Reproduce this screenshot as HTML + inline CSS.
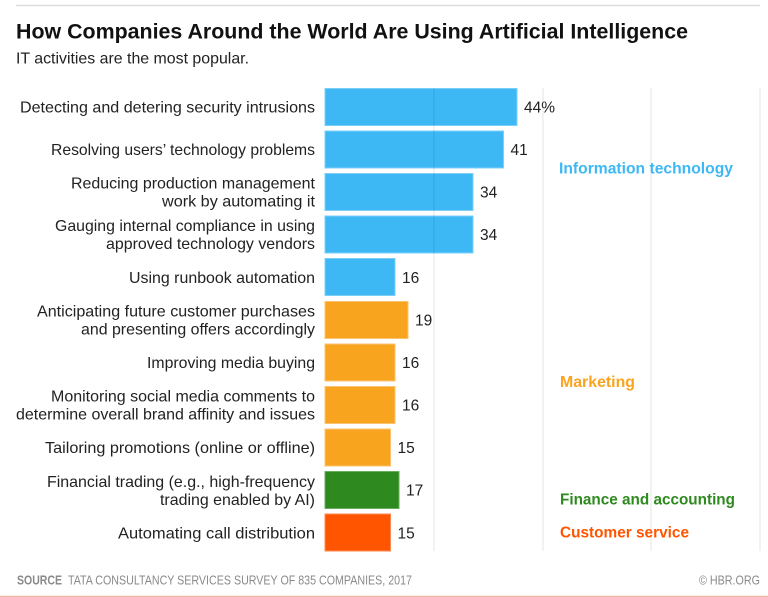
<!DOCTYPE html>
<html><head><meta charset="utf-8"><style>
html,body{margin:0;padding:0;background:#fff;}
svg{display:block;}
text{font-family:"Liberation Sans",sans-serif;}
</style></head><body>
<svg width="768" height="597" viewBox="0 0 768 597" xmlns="http://www.w3.org/2000/svg">
<rect width="768" height="597" fill="#fff"/>
<line x1="16" y1="5.5" x2="760" y2="5.5" stroke="#dcdcdc" stroke-width="1.5"/>
<text x="16" y="38.5" font-size="21" font-weight="bold" fill="#111" textLength="672" lengthAdjust="spacingAndGlyphs">How Companies Around the World Are Using Artificial Intelligence</text>
<text x="16" y="63.5" font-size="16" fill="#222" textLength="233" lengthAdjust="spacingAndGlyphs">IT activities are the most popular.</text>

<!-- bars -->
<g stroke-width="1">
<rect x="325" y="88.5" width="192" height="37" fill="#3db8f5" stroke="#7ccff8"/>
<rect x="325" y="131" width="178.5" height="37" fill="#3db8f5" stroke="#7ccff8"/>
<rect x="325" y="173.5" width="148" height="37" fill="#3db8f5" stroke="#7ccff8"/>
<rect x="325" y="216" width="148" height="37" fill="#3db8f5" stroke="#7ccff8"/>
<rect x="325" y="258.5" width="70" height="37" fill="#3db8f5" stroke="#7ccff8"/>
<rect x="325" y="301.5" width="83" height="37" fill="#f9a41f" stroke="#fbc370"/>
<rect x="325" y="344" width="70" height="37" fill="#f9a41f" stroke="#fbc370"/>
<rect x="325" y="386.5" width="70" height="37" fill="#f9a41f" stroke="#fbc370"/>
<rect x="325" y="429" width="65.5" height="37" fill="#f9a41f" stroke="#fbc370"/>
<rect x="325" y="471.5" width="74" height="37" fill="#2e8a1f" stroke="#6aad5e"/>
<rect x="325" y="514" width="65.5" height="37" fill="#ff5500" stroke="#ff8a52"/>
</g>

<!-- gridlines -->
<g stroke="rgba(0,0,0,0.09)" stroke-width="1.2">
<line x1="434" y1="88" x2="434" y2="551"/>
<line x1="543" y1="88" x2="543" y2="551"/>
<line x1="651" y1="88" x2="651" y2="551"/>
<line x1="760" y1="88" x2="760" y2="551"/>
</g>

<!-- row labels -->
<g font-size="16" fill="#222" text-anchor="end">
<text x="315" y="112.5" textLength="295" lengthAdjust="spacingAndGlyphs">Detecting and detering security intrusions</text>
<text x="315" y="155" textLength="264" lengthAdjust="spacingAndGlyphs">Resolving users’ technology problems</text>
<text x="315" y="188.5" textLength="244" lengthAdjust="spacingAndGlyphs">Reducing production management</text>
<text x="315" y="206.5" textLength="153" lengthAdjust="spacingAndGlyphs">work by automating it</text>
<text x="315" y="231" textLength="260" lengthAdjust="spacingAndGlyphs">Gauging internal compliance in using</text>
<text x="315" y="249" textLength="209" lengthAdjust="spacingAndGlyphs">approved technology vendors</text>
<text x="315" y="283" textLength="186" lengthAdjust="spacingAndGlyphs">Using runbook automation</text>
<text x="315" y="316.5" textLength="278" lengthAdjust="spacingAndGlyphs">Anticipating future customer purchases</text>
<text x="315" y="334.5" textLength="234" lengthAdjust="spacingAndGlyphs">and presenting offers accordingly</text>
<text x="315" y="368" textLength="168" lengthAdjust="spacingAndGlyphs">Improving media buying</text>
<text x="315" y="401.5" textLength="264" lengthAdjust="spacingAndGlyphs">Monitoring social media comments to</text>
<text x="315" y="419.5" textLength="299" lengthAdjust="spacingAndGlyphs">determine overall brand affinity and issues</text>
<text x="315" y="453" textLength="270" lengthAdjust="spacingAndGlyphs">Tailoring promotions (online or offline)</text>
<text x="315" y="487" textLength="268" lengthAdjust="spacingAndGlyphs">Financial trading (e.g., high-frequency</text>
<text x="315" y="505" textLength="155" lengthAdjust="spacingAndGlyphs">trading enabled by AI)</text>
<text x="315" y="538.5" textLength="197" lengthAdjust="spacingAndGlyphs">Automating call distribution</text>
</g>

<!-- value labels -->
<g font-size="15.5" fill="#222">
<text x="524" y="112.5">44%</text>
<text x="510.5" y="155">41</text>
<text x="480" y="197.5">34</text>
<text x="480" y="240">34</text>
<text x="402" y="283">16</text>
<text x="415" y="325.5">19</text>
<text x="402" y="368">16</text>
<text x="402" y="410.5">16</text>
<text x="397.5" y="453">15</text>
<text x="406" y="495.5">17</text>
<text x="397.5" y="538.5">15</text>
</g>

<!-- category labels -->
<g font-size="15.5" font-weight="bold">
<text x="559" y="173.5" fill="#3db8f5" textLength="174" lengthAdjust="spacingAndGlyphs">Information technology</text>
<text x="560" y="387" fill="#f9a41f" textLength="75" lengthAdjust="spacingAndGlyphs">Marketing</text>
<text x="560" y="504.5" fill="#2e8a1f" textLength="175" lengthAdjust="spacingAndGlyphs">Finance and accounting</text>
<text x="560" y="537.5" fill="#ff5500" textLength="129" lengthAdjust="spacingAndGlyphs">Customer service</text>
</g>

<!-- footer -->
<text x="17" y="584.5" font-size="12.5" font-weight="bold" fill="#8a8a8a" textLength="45" lengthAdjust="spacingAndGlyphs">SOURCE</text>
<text x="68" y="584.5" font-size="12.5" fill="#8a8a8a" textLength="344" lengthAdjust="spacingAndGlyphs">TATA CONSULTANCY SERVICES SURVEY OF 835 COMPANIES, 2017</text>
<text x="760" y="584.5" font-size="12.5" fill="#8a8a8a" text-anchor="end" textLength="61" lengthAdjust="spacingAndGlyphs">© HBR.ORG</text>
<line x1="0" y1="596.5" x2="768" y2="596.5" stroke="#f4b6a4" stroke-width="1.5"/>
</svg>
</body></html>
